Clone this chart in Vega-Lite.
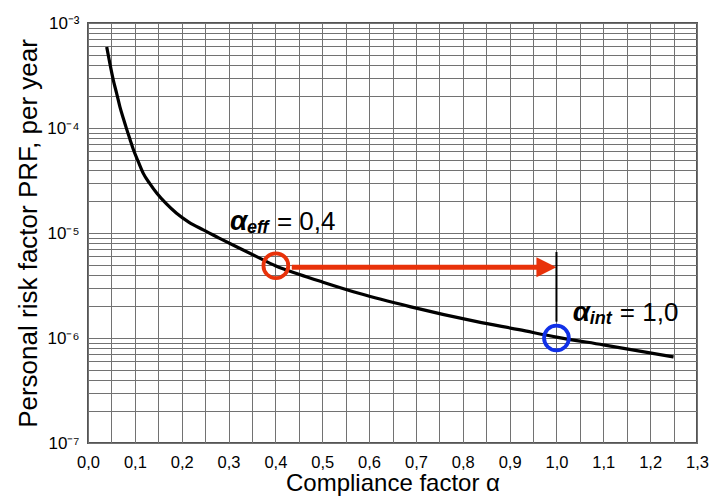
{
  "$schema": "https://vega.github.io/schema/vega-lite/v6.json",
  "width": 609,
  "height": 420,
  "autosize": "none",
  "padding": {"left": 88, "top": 23, "right": 20, "bottom": 56},
  "background": "white",
  "config": {
    "view": {"stroke": "#555555", "strokeWidth": 2},
    "font": "Liberation Sans"
  },
  "datasets": {
    "curve": [
      {"x": 0.040, "y": 5.9e-4},
      {"x": 0.047, "y": 4.05e-4},
      {"x": 0.054, "y": 2.86e-4},
      {"x": 0.061, "y": 2.15e-4},
      {"x": 0.068, "y": 1.6e-4},
      {"x": 0.075, "y": 1.25e-4},
      {"x": 0.083, "y": 9.6e-5},
      {"x": 0.090, "y": 7.7e-5},
      {"x": 0.097, "y": 6.2e-5},
      {"x": 0.108, "y": 4.7e-5},
      {"x": 0.118, "y": 3.7e-5},
      {"x": 0.132, "y": 2.95e-5},
      {"x": 0.147, "y": 2.39e-5},
      {"x": 0.167, "y": 1.9e-5},
      {"x": 0.189, "y": 1.54e-5},
      {"x": 0.215, "y": 1.27e-5},
      {"x": 0.246, "y": 1.07e-5},
      {"x": 0.280, "y": 8.95e-6},
      {"x": 0.317, "y": 7.4e-6},
      {"x": 0.360, "y": 5.96e-6},
      {"x": 0.400, "y": 4.88e-6},
      {"x": 0.450, "y": 4.05e-6},
      {"x": 0.500, "y": 3.42e-6},
      {"x": 0.580, "y": 2.65e-6},
      {"x": 0.687, "y": 1.99e-6},
      {"x": 0.830, "y": 1.43e-6},
      {"x": 0.920, "y": 1.2e-6},
      {"x": 1.000, "y": 1.02e-6},
      {"x": 1.100, "y": 8.6e-7},
      {"x": 1.250, "y": 6.6e-7}
    ],
    "circles": [
      {"kind": "eff", "x": 0.401, "y": 4.88e-6},
      {"kind": "int", "x": 1.0, "y": 1.0e-6}
    ],
    "shaft": [{"x": 0.435, "x2": 0.975, "y": 4.71e-6}],
    "head": [{"x": 1.0, "y": 4.71e-6}],
    "drop": [{"x": 1.0, "y": 6.6e-6, "y2": 1.43e-6}],
    "labels": [
      {"sub": "eff", "val": "= 0,4", "x": 0.303, "y": 1.07e-5},
      {"sub": "int", "val": "= 1,0", "x": 1.035, "y": 1.45e-6}
    ]
  },
  "encoding": {
    "x": {
      "field": "x",
      "type": "quantitative",
      "scale": {"domain": [0, 1.3], "nice": false, "zero": false},
      "axis": {
        "title": "Compliance factor α",
        "titleFontSize": 24,
        "titleFontWeight": "normal",
        "titleColor": "black",
        "titlePadding": 1,
        "values": [0, 0.05, 0.1, 0.15, 0.2, 0.25, 0.3, 0.35, 0.4, 0.45, 0.5, 0.55, 0.6, 0.65, 0.7, 0.75, 0.8, 0.85, 0.9, 0.95, 1.0, 1.05, 1.1, 1.15, 1.2, 1.25, 1.3],
        "labelExpr": "round(datum.value*20) % 2 == 0 ? replace(format(datum.value, '.1f'), '.', ',') : ''",
        "labelFontSize": 16.5,
        "labelColor": "black",
        "labelPadding": 11,
        "labelFlush": false,
        "labelOverlap": false,
        "ticks": false,
        "domain": false,
        "grid": true,
        "gridColor": "#727272",
        "gridWidth": 1,
        "gridOpacity": 1
      }
    },
    "y": {
      "field": "y",
      "type": "quantitative",
      "scale": {"type": "log", "domain": [1e-7, 1e-3], "nice": false},
      "axis": {
        "title": "Personal risk factor PRF, per year",
        "titleFontSize": 26,
        "titleFontWeight": "normal",
        "titleColor": "black",
        "titlePadding": 5,
        "values": [1e-7, 2e-7, 3e-7, 4e-7, 5e-7, 6e-7, 7e-7, 8e-7, 9e-7, 1e-6, 2e-6, 3e-6, 4e-6, 5e-6, 6e-6, 7e-6, 8e-6, 9e-6, 1e-5, 2e-5, 3e-5, 4e-5, 5e-5, 6e-5, 7e-5, 8e-5, 9e-5, 1e-4, 2e-4, 3e-4, 4e-4, 5e-4, 6e-4, 7e-4, 8e-4, 9e-4, 1e-3],
        "labelExpr": "datum.value == 1e-3 ? '10⁻³' : datum.value == 1e-4 ? '10⁻⁴' : datum.value == 1e-5 ? '10⁻⁵' : datum.value == 1e-6 ? '10⁻⁶' : datum.value == 1e-7 ? '10⁻⁷' : ''",
        "labelFontSize": 17,
        "labelColor": "black",
        "labelPadding": 9,
        "labelFlush": false,
        "labelOverlap": false,
        "ticks": false,
        "domain": false,
        "grid": true,
        "gridColor": "#727272",
        "gridWidth": 1,
        "gridOpacity": 1
      }
    }
  },
  "layer": [
    {
      "data": {"name": "curve"},
      "mark": {"type": "line", "color": "black", "strokeWidth": 3.2, "interpolate": "monotone", "strokeCap": "butt"}
    },
    {
      "data": {"name": "shaft"},
      "mark": {"type": "rule", "color": "#e8320a", "strokeWidth": 5},
      "encoding": {"x2": {"field": "x2"}}
    },
    {
      "data": {"name": "head"},
      "mark": {"type": "point", "shape": "M-1,-1L1,0L-1,1Z", "size": 400, "filled": true, "color": "#e8320a", "opacity": 1, "xOffset": -10, "strokeWidth": 0}
    },
    {
      "data": {"name": "drop"},
      "mark": {"type": "rule", "color": "black", "strokeWidth": 2},
      "encoding": {"y2": {"field": "y2"}}
    },
    {
      "data": {"name": "circles"},
      "mark": {"type": "point", "shape": "circle", "size": 616, "filled": false, "strokeWidth": 3.8, "opacity": 1},
      "encoding": {
        "color": {"field": "kind", "type": "nominal", "scale": {"domain": ["eff", "int"], "range": ["#e8320a", "#1030e8"]}, "legend": null}
      }
    },
    {
      "data": {"name": "labels"},
      "mark": {"type": "text", "text": "α", "align": "left", "baseline": "alphabetic", "fontSize": 28, "fontStyle": "italic", "fontWeight": "bold", "color": "black"}
    },
    {
      "data": {"name": "labels"},
      "mark": {"type": "text", "align": "left", "baseline": "alphabetic", "fontSize": 18, "fontStyle": "italic", "fontWeight": "bold", "color": "black", "dx": 17, "dy": 3},
      "encoding": {"text": {"field": "sub"}}
    },
    {
      "data": {"name": "labels"},
      "mark": {"type": "text", "align": "left", "baseline": "alphabetic", "fontSize": 26, "color": "black", "dx": 47},
      "encoding": {"text": {"field": "val"}}
    }
  ]
}
